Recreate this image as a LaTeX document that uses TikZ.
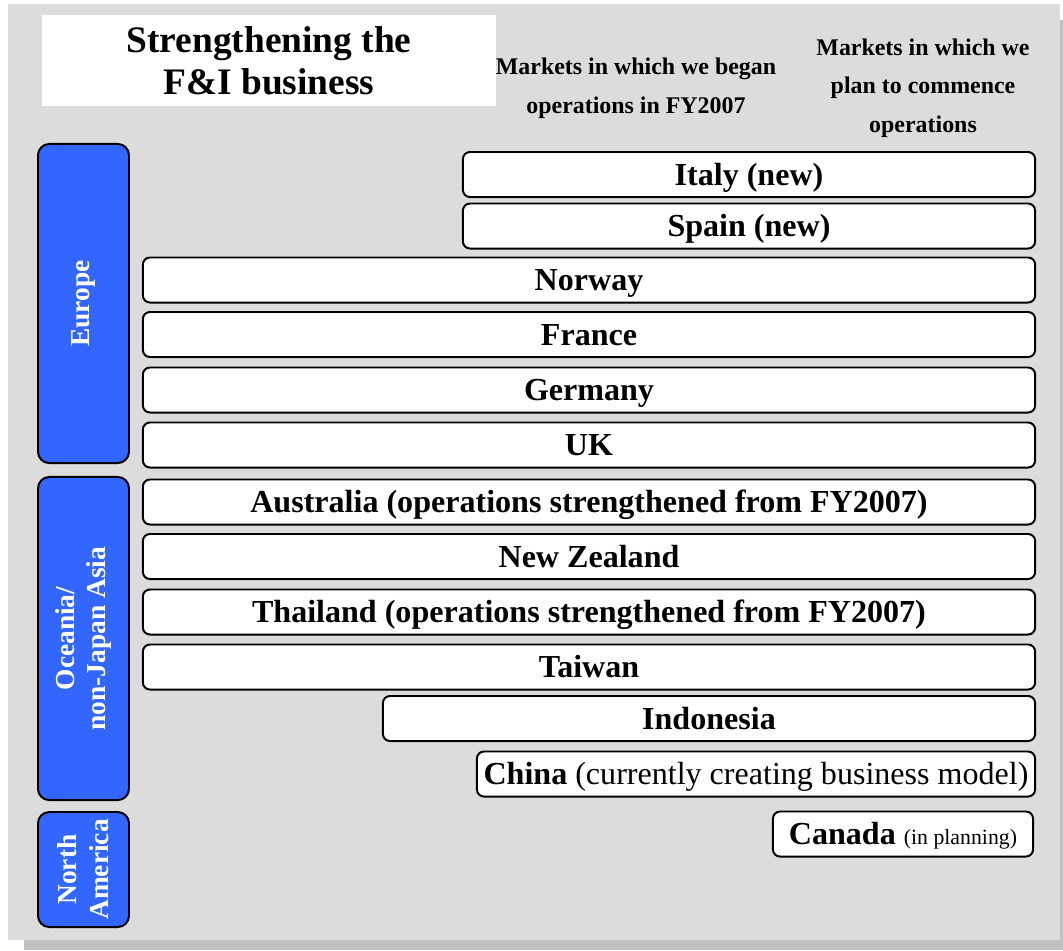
\documentclass[tikz,border=0pt]{standalone}
\usepackage{fontspec}
\setmainfont{Liberation Serif}
\definecolor{bggray}{HTML}{DCDCDC}
\definecolor{shadowgray}{HTML}{C0C0C0}
\definecolor{regionblue}{HTML}{3366FF}
\begin{document}
\begin{tikzpicture}[
    x=0.025cm, y=-0.025cm,
  countrybox/.style={rectangle, draw, line width=1.4pt, rounded corners=5pt, fill=white, minimum height=1.125cm, text centered, font=\fontsize{22.8}{26}\selectfont\bfseries, inner sep=0pt, text height=17pt, text depth=2pt},
  regionbox/.style={rectangle, draw, line width=1.4pt, rounded corners=8pt, fill=regionblue, rotate=90, minimum height=2.275cm, text=white, align=center, font=\fontsize{19.5}{22.6}\selectfont\bfseries, inner sep=0pt},
  headtext/.style={align=center, font=\fontsize{17}{27.5}\selectfont\bfseries}
]
\useasboundingbox (0,0) rectangle (1063,950);

% Background and shadow
\fill[shadowgray] (24,940) rectangle (1063,950);
\fill[shadowgray] (1060,20) rectangle (1063,950);
\fill[bggray] (8,4) rectangle (1060,940);

% Title and column headings
\node[fill=white, minimum width=11.35cm, minimum height=2.275cm, align=center, font=\fontsize{26.6}{30}\selectfont\bfseries] (title) at (269,60.5) {Strengthening the\\F\&I business};
\node[headtext] (began) at (636,88) {Markets in which we began\\operations in FY2007};
\node[headtext] (planned) at (923,88) {Markets in which we\\plan to commence\\operations};

% Region boxes
\node[regionbox, minimum width=7.975cm] (europe) at (83.5,303.5) {Europe};
\node[regionbox, minimum width=8.075cm] (asia) at (83.5,638.5) {Oceania/\\non-Japan Asia};
\node[regionbox, minimum width=2.875cm] (america) at (83.5,869.5) {North\\America};

% Country boxes
\node[countrybox, minimum width=14.3cm] (italy) at (749,174.5) {Italy (new)};
\node[countrybox, minimum width=14.3cm] (spain) at (749,226) {Spain (new)};
\node[countrybox, minimum width=22.3cm] (norway) at (589,280) {Norway};
\node[countrybox, minimum width=22.3cm] (france) at (589,334.5) {France};
\node[countrybox, minimum width=22.3cm] (germany) at (589,390) {Germany};
\node[countrybox, minimum width=22.3cm] (uk) at (589,445) {UK};
\node[countrybox, minimum width=22.3cm] (australia) at (589,502) {Australia (operations strengthened from FY2007)};
\node[countrybox, minimum width=22.3cm] (newzealand) at (589,556.5) {New Zealand};
\node[countrybox, minimum width=22.3cm] (thailand) at (589,612) {Thailand (operations strengthened from FY2007)};
\node[countrybox, minimum width=22.3cm] (taiwan) at (589,667) {Taiwan};
\node[countrybox, minimum width=16.3cm] (indonesia) at (709,718.5) {Indonesia};
\node[countrybox, minimum width=13.95cm] (china) at (756,774) {China \mdseries(currently creating business model)};
\node[countrybox, minimum width=6.5cm] (canada) at (903,834) {Canada \mdseries\fontsize{15.5}{18}\selectfont(in planning)};

\end{tikzpicture}
\end{document}
